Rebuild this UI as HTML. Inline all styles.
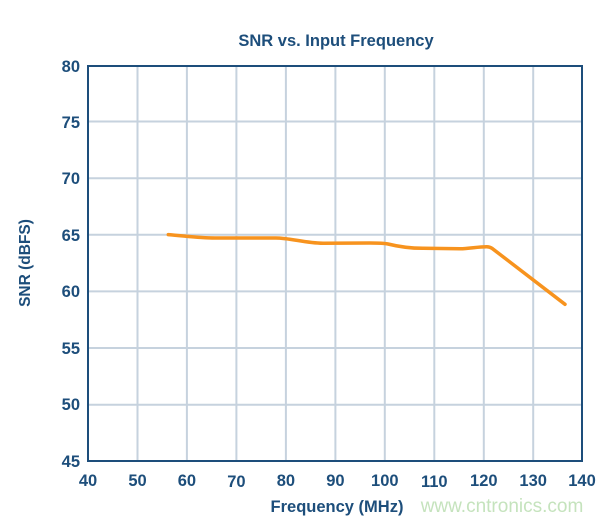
<!DOCTYPE html>
<html><head><meta charset="utf-8"><style>
html,body{margin:0;padding:0;background:#fff;}
svg{display:block;}
text{font-family:"Liberation Sans",Arial,sans-serif;font-weight:bold;fill:#1d4e7b;}
</style></head><body>
<svg width="604" height="521" viewBox="0 0 604 521" xmlns="http://www.w3.org/2000/svg">
<rect width="604" height="521" fill="#fff"/>
<text x="336" y="46" font-size="16.5" text-anchor="middle">SNR vs. Input Frequency</text>
<g stroke="#c6d2de" stroke-width="2">
<line x1="137.5" y1="66" x2="137.5" y2="461"/>
<line x1="186.9" y1="66" x2="186.9" y2="461"/>
<line x1="236.4" y1="66" x2="236.4" y2="461"/>
<line x1="285.9" y1="66" x2="285.9" y2="461"/>
<line x1="335.4" y1="66" x2="335.4" y2="461"/>
<line x1="384.8" y1="66" x2="384.8" y2="461"/>
<line x1="434.3" y1="66" x2="434.3" y2="461"/>
<line x1="483.8" y1="66" x2="483.8" y2="461"/>
<line x1="533.2" y1="66" x2="533.2" y2="461"/>
<line x1="88" y1="121.5" x2="582" y2="121.5"/>
<line x1="88" y1="178.2" x2="582" y2="178.2"/>
<line x1="88" y1="234.8" x2="582" y2="234.8"/>
<line x1="88" y1="291.4" x2="582" y2="291.4"/>
<line x1="88" y1="348" x2="582" y2="348"/>
<line x1="88" y1="404.8" x2="582" y2="404.8"/>
</g>
<rect x="88" y="66" width="494" height="395" fill="none" stroke="#1d4e7b" stroke-width="2"/>
<path d="M168.3,234.6 C190,236.5 200,238 215,238 L276,238 C290,238 305,243 323,243.3 L370,243 C378,243 383,243 388,244 C400,247 410,248.3 423,248.3 L460,248.8 C470,248.5 478,246.7 486.7,246.7 C489,246.7 490.5,247.2 492,248.3 L565,304.3" fill="none" stroke="#f7931e" stroke-width="3.5" stroke-linecap="round" stroke-linejoin="round"/>
<g font-size="16.5" text-anchor="end">
<text x="80" y="72">80</text>
<text x="80" y="128">75</text>
<text x="80" y="184">70</text>
<text x="80" y="241">65</text>
<text x="80" y="297">60</text>
<text x="80" y="354">55</text>
<text x="80" y="410">50</text>
<text x="80" y="467">45</text>
</g>
<g font-size="16.5" text-anchor="middle">
<text x="88" y="486">40</text>
<text x="137.5" y="486">50</text>
<text x="186.9" y="486">60</text>
<text x="236.4" y="487">70</text>
<text x="285.9" y="486">80</text>
<text x="335.4" y="486">90</text>
<text x="384.8" y="486">100</text>
<text x="434.3" y="487">110</text>
<text x="483.8" y="486">120</text>
<text x="533.2" y="486">130</text>
<text x="582" y="486">140</text>
</g>
<text x="337" y="512" font-size="16.5" text-anchor="middle">Frequency (MHz)</text>
<text transform="translate(30,263) rotate(-90)" font-size="15.5" text-anchor="middle">SNR (dBFS)</text>
<text x="502" y="512" font-size="19" text-anchor="middle" style="fill:#c5e3bd;font-weight:normal">www.cntronics.com</text>
</svg>
</body></html>
